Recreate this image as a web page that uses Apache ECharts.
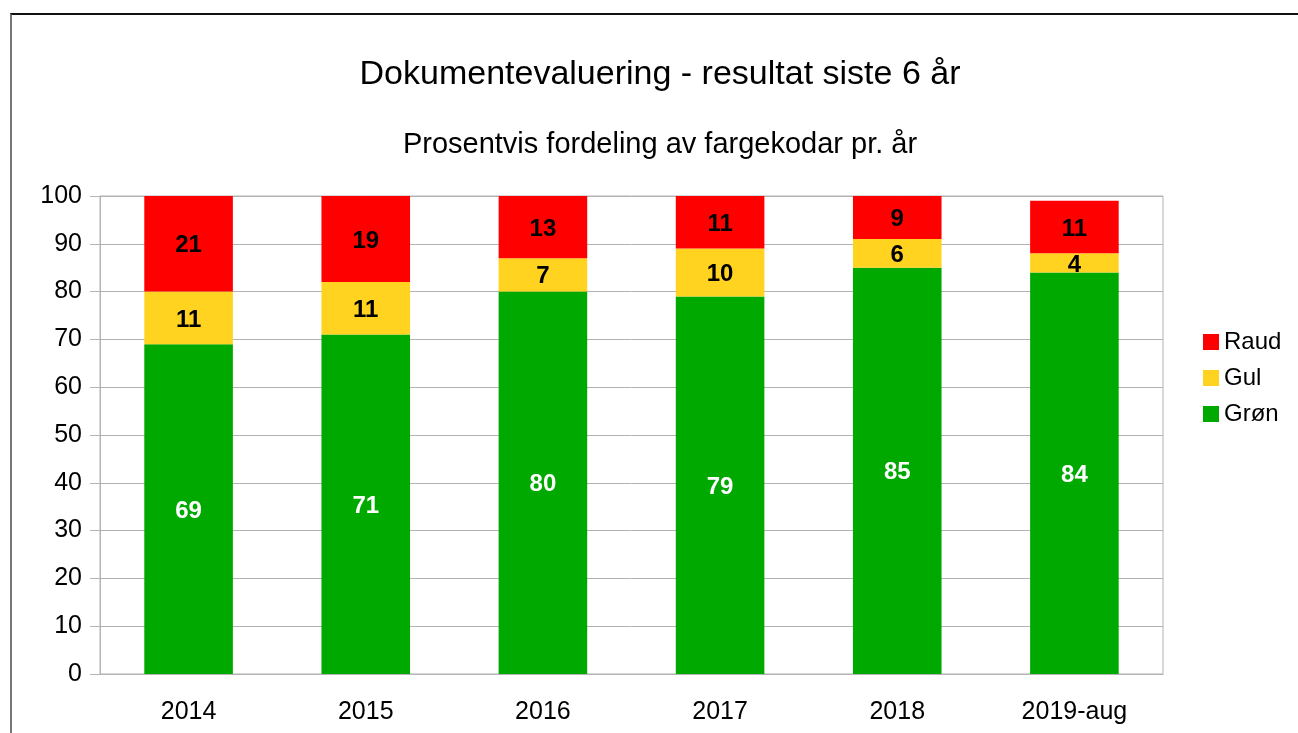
<!DOCTYPE html>
<html>
<head>
<meta charset="utf-8">
<script src="https://cdn.jsdelivr.net/npm/echarts@6/dist/echarts.min.js"></script>
<style>
  html, body { margin: 0; padding: 0; background: #fff; overflow: hidden; }
  #frame { position: absolute; left: 10px; top: 13px; width: 1400px; height: 800px;
    border-top: 2px solid #111; border-left: 2px solid #777; }
  #chart { position: absolute; left: 0; top: 0; width: 1298px; height: 733px; }
</style>
</head>
<body>
<div id="frame"></div>
<div id="chart"></div>
<script>
const categories = ['2014', '2015', '2016', '2017', '2018', '2019-aug']
const gron = [69, 71, 80, 79, 85, 84]
const gul = [11, 11, 7, 10, 6, 4]
const raud = [21, 19, 13, 11, 9, 11]

const font = 'Liberation Sans, Arial, sans-serif'
const chart = echarts.init(document.getElementById('chart'))

const seriesItem = (name, data, color, labelColor) => ({
  name,
  type: 'bar',
  stack: 'total',
  data,
  barWidth: '50%',
  itemStyle: { color },
  label: {
    show: true,
    position: 'inside',
    offset: [0, 2],
    color: labelColor,
    fontFamily: font,
    fontWeight: 'bold',
    fontSize: 24
  }
})

chart.setOption({
  backgroundColor: 'transparent',
  animation: false,
  title: [
    {
      text: 'Dokumentevaluering - resultat siste 6 år',
      left: 655, top: 53, textAlign: 'center',
      textStyle: { fontFamily: font, fontWeight: 'normal', fontSize: 34, color: '#000' }
    },
    {
      text: 'Prosentvis fordeling av fargekodar pr. år',
      left: 655, top: 125, textAlign: 'center',
      textStyle: { fontFamily: font, fontWeight: 'normal', fontSize: 29, color: '#000' }
    }
  ],
  legend: {
    orient: 'vertical',
    left: 1198, top: 325,
    itemWidth: 16, itemHeight: 16, itemGap: 12,
    icon: 'rect',
    data: ['Raud', 'Gul', 'Grøn'],
    textStyle: { fontFamily: font, fontSize: 24, color: '#000' }
  },
  grid: {
    left: 100, right: 135, top: 196, bottom: 59,
    show: true, borderColor: '#b3b3b3', borderWidth: 1
  },
  xAxis: {
    type: 'category',
    data: categories,
    axisLine: { lineStyle: { color: '#b3b3b3' } },
    axisTick: { length: 10, lineStyle: { color: '#b3b3b3' } },
    axisLabel: { fontFamily: font, fontSize: 25, color: '#000', margin: 26 }
  },
  yAxis: {
    type: 'value',
    min: 0, max: 100, interval: 10,
    axisLine: { show: true, lineStyle: { color: '#b3b3b3' } },
    axisTick: { show: true, length: 10, lineStyle: { color: '#b3b3b3' } },
    axisLabel: { fontFamily: font, fontSize: 25, color: '#000', margin: 18 },
    splitLine: { lineStyle: { color: '#b3b3b3' } }
  },
  series: [
    seriesItem('Grøn', gron, '#00a900', '#fff'),
    seriesItem('Gul', gul, '#ffd320', '#000'),
    seriesItem('Raud', raud, '#ff0000', '#000')
  ]
})
</script>
</body>
</html>
